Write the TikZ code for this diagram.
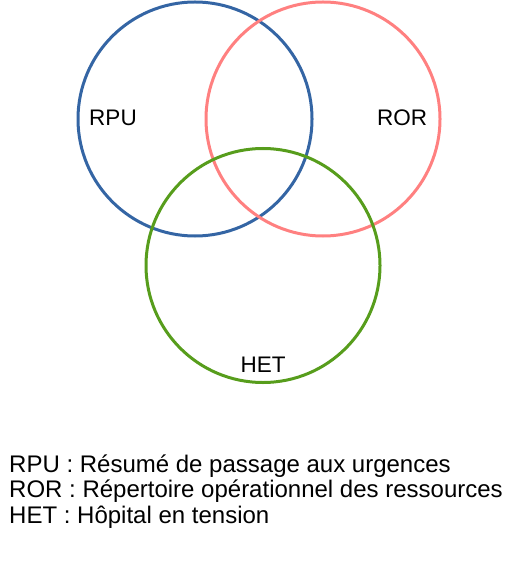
\documentclass[tikz,border=0pt]{standalone}
\usepackage{fontspec}
\setmainfont{Liberation Sans}
\usepackage{pgf,tikz}
\usetikzlibrary{arrows}
\definecolor{rpublue}{HTML}{3465A4}
\definecolor{rorred}{HTML}{FF8080}
\definecolor{hetgreen}{HTML}{579D1C}

\begin{document}
\begin{tikzpicture}[line cap=round,line join=round,x=1pt,y=-1pt]
\useasboundingbox (0,0) rectangle (518,561);
\draw [line width=3pt, color=rpublue] (195,119) circle (117);
\draw [line width=3pt, color=rorred] (323,119) circle (117);
\draw [line width=3pt, color=hetgreen] (263,265.5) circle (117);

\begin{scope}[font=\fontsize{22.5}{26}\selectfont]
\node [anchor=base] (rpu) at (113,126) {RPU};
\node [anchor=base] (ror) at (402,126) {ROR};
\node [anchor=base] (het) at (263,372) {HET};
\end{scope}

\begin{scope}[font=\fontsize{24}{26}\selectfont, inner sep=0pt]
\node [anchor=base west] (legrpu) at (9,472) {RPU : Résumé de passage aux urgences};
\node [anchor=base west] (legror) at (9,497.5) {ROR : Répertoire opérationnel des ressources};
\node [anchor=base west] (leghet) at (9,523) {HET : Hôpital en tension};
\end{scope}
%\draw (0,0) rectangle (518,561);
\end{tikzpicture}
\end{document}
